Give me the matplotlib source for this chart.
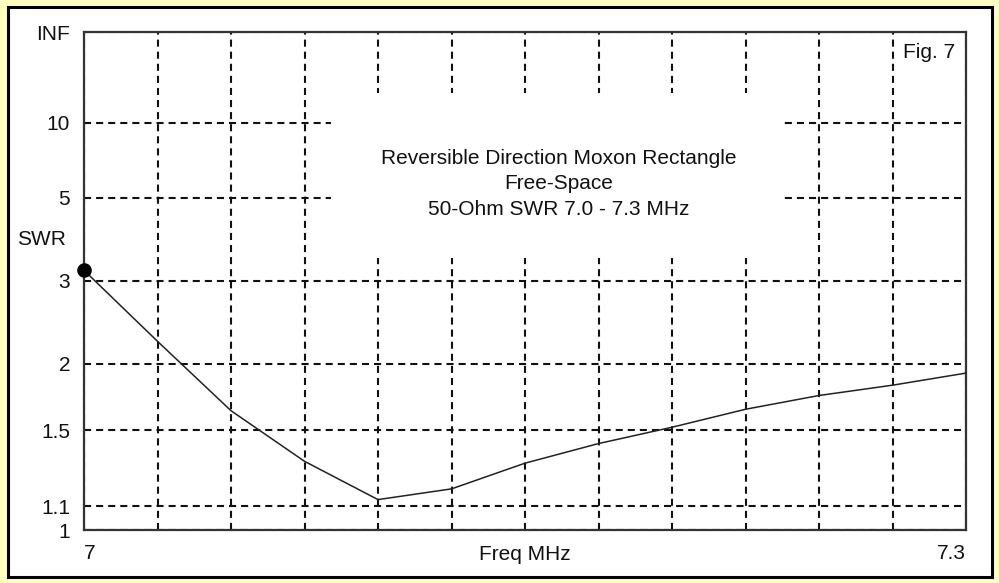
import numpy as np
import matplotlib
matplotlib.use("Agg")
import matplotlib.pyplot as plt
from matplotlib.patches import Rectangle

plt.rcParams['font.family'] = ['Liberation Sans', 'DejaVu Sans']

# 50-ohm SWR sweep, 7.0 - 7.3 MHz
freq_mhz = [7.000, 7.025, 7.050, 7.075, 7.100, 7.125, 7.150,
            7.175, 7.200, 7.225, 7.250, 7.275, 7.300]
swr = [3.18, 2.22, 1.63, 1.32, 1.13, 1.18, 1.31,
       1.42, 1.52, 1.64, 1.74, 1.82, 1.92]

swr_ticks = [1, 1.1, 1.5, 2, 3, 5, 10, 1e6]
swr_tick_labels = ['1', '1.1', '1.5', '2', '3', '5', '10', 'INF']
freq_grid = [7.0 + 0.025 * i for i in range(13)]

title_lines = "Reversible Direction Moxon Rectangle\nFree-Space\n50-Ohm SWR 7.0 - 7.3 MHz"


def swr_to_rho(s):
    s = np.asarray(s, dtype=float)
    return (s - 1.0) / (s + 1.0)


def rho_to_swr(r):
    r = np.clip(np.asarray(r, dtype=float), -0.999999, 0.9999999)
    return (1.0 + r) / (1.0 - r)


W, H = 999, 583
fig = plt.figure(figsize=(W / 100, H / 100), dpi=100, facecolor='#FFFFC0')

# white panel with black frame, drawn beneath the axes
fig.patches.append(Rectangle((7.5 / W, 1 - 577 / H), (992 - 7.5) / W, (577 - 7) / H,
                             transform=fig.transFigure, facecolor='white',
                             edgecolor='black', lw=2.2, zorder=-1))

ax = fig.add_axes([84 / W, 53 / H, 882 / W, 498 / H])
ax.set_facecolor('white')
ax.set_yscale('function', functions=(swr_to_rho, rho_to_swr))
ax.set_ylim(1, 1e6)
ax.set_xlim(7.0, 7.3)

ax.set_axisbelow(True)
ax.set_xticks([7.0, 7.3], ['7', '7.3'])
ax.set_xticks(freq_grid, minor=True)
ax.set_yticks(swr_ticks, swr_tick_labels)
ax.yaxis.set_minor_locator(matplotlib.ticker.NullLocator())
ax.tick_params(axis='both', which='both', length=0, labelsize=15, colors='#111111')
ax.tick_params(axis='y', pad=10)
ax.tick_params(axis='x', pad=10)
xl = ax.get_xticklabels()
xl[0].set_ha('left')
xl[1].set_ha('right')

dash = (0, (3.4, 2.4))
ax.grid(True, axis='x', which='both', color='#111111', linestyle=dash, lw=1.5)
ax.grid(True, axis='y', which='major', color='#111111', linestyle=dash, lw=1.5)

for sp in ax.spines.values():
    sp.set_linewidth(1.6)
    sp.set_color('#333333')

# blank box behind the caption
ax.add_patch(Rectangle((0.2795, 0.546), 0.5095, 0.3315,
                       transform=ax.transAxes, facecolor='white',
                       edgecolor='none', zorder=1))

ax.plot(freq_mhz, swr, color='#222222', lw=1.1, zorder=3, clip_on=False)
ax.plot(freq_mhz[0], swr[0], 'o', color='black', ms=9.5, zorder=4, clip_on=False)

ax.text(0.538, 0.695, title_lines, transform=ax.transAxes, ha='center',
        va='center', fontsize=15, color='#111111', linespacing=1.42, zorder=5)
ax.text(0.9875, 0.958, 'Fig. 7', transform=ax.transAxes, ha='right',
        va='center', fontsize=15, color='#111111')
ax.text(-0.076, 0.584, 'SWR', transform=ax.transAxes, ha='left',
        va='center', fontsize=15, color='#111111')
ax.text(0.5, -0.05, 'Freq MHz', transform=ax.transAxes, ha='center',
        va='center', fontsize=15, color='#111111')

fig.savefig('out.png', dpi=100, facecolor=fig.get_facecolor())
